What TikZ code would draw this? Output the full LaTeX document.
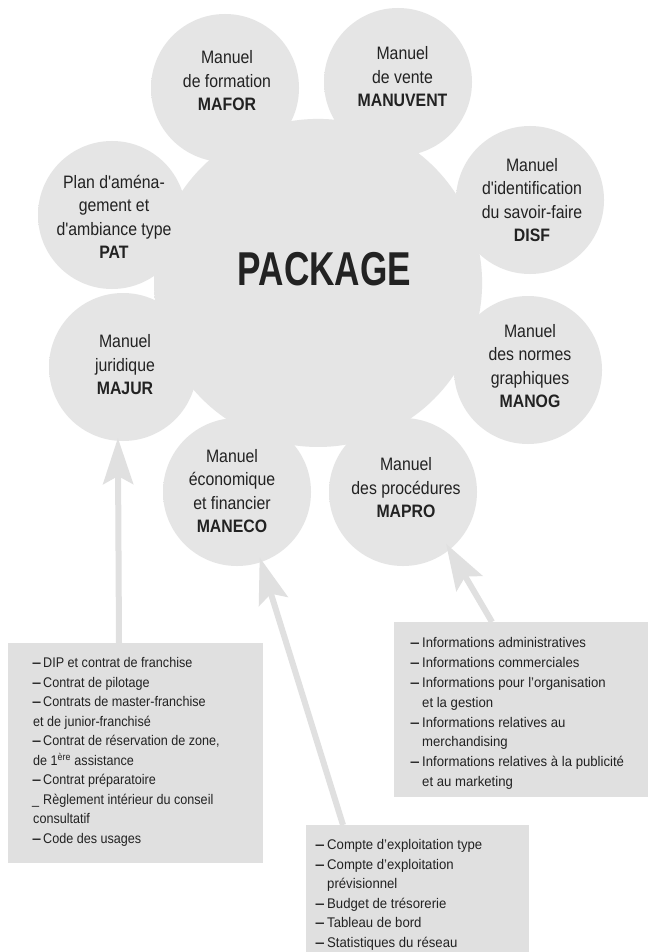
\documentclass[tikz,border=0pt]{standalone}
\usepackage{fontspec}
\setmainfont{Liberation Sans}[FakeStretch=0.94]
\newfontfamily\leftfont{Liberation Sans}[FakeStretch=0.9]
\newfontfamily\ballfont{Liberation Sans}[FakeStretch=0.88]
\newfontfamily\pkgfont{Liberation Sans}[FakeStretch=0.74]
\usetikzlibrary{arrows.meta,backgrounds,fadings,calc}

\definecolor{discgray}{HTML}{E5E5E5}
\definecolor{rimgray}{HTML}{DDDDDD}
\definecolor{boxgray}{HTML}{E0E0E0}
\definecolor{inkgray}{HTML}{222222}

% soft-edged discs: opaque core, fading rim
\pgfdeclareradialshading{softedgeshade}{\pgfpointorigin}{color(0bp)=(white); color(38bp)=(white); color(44bp)=(black!25!white); color(50bp)=(black)}
\pgfdeclareradialshading{softedgebigshade}{\pgfpointorigin}{color(0bp)=(white); color(44bp)=(white); color(47bp)=(black!25!white); color(50bp)=(black)}
\pgfdeclarefading{softedge}{\pgfuseshading{softedgeshade}}
\pgfdeclarefading{softedgebig}{\pgfuseshading{softedgebigshade}}
\pgfdeclareradialshading{discfill}{\pgfpointorigin}{color(0bp)=(discgray); color(34bp)=(discgray); color(44bp)=(rimgray); color(50bp)=(rimgray)}

% list items: a long dash before the entry, continuation lines indented
\newcommand{\longdash}{\scalebox{1.3}[1]{\textbf{–}}}
\newcommand{\dashitem}[1]{\makebox[12pt][l]{\longdash}#1}
\newcommand{\contline}[1]{\hspace*{12pt}#1}

\tikzset{
  ball/.style={circle, minimum size=146pt, inner sep=0pt},
  bigball/.style={circle, minimum size=326pt, inner sep=0pt},
  balltext/.style={font=\ballfont\fontsize{18}{23.5}\selectfont, align=center, text=inkgray, inner sep=0pt},
  infobox/.style={rectangle, fill=boxgray, inner sep=0pt, anchor=north west},
  infotext/.style={font=\fontsize{14}{19.8}\selectfont, align=left, text=inkgray, inner sep=0pt, anchor=north west},
  feed/.style={draw=boxgray, line width=6pt,
    -{Stealth[length=46pt, width=30pt, inset=8pt]}},
}

\begin{document}
\begin{tikzpicture}[x=1pt, y=1pt]
\useasboundingbox (0,0) rectangle (648,-952);

% circles
\node[bigball] (pkg)    at (318,-283) {};
\node[ball]    (mafor)  at (225,-88)  {};
\node[ball]    (manuv)  at (398,-82)  {};
\node[ball]    (pat)    at (112,-215) {};
\node[ball]    (majur)  at (123,-367) {};
\node[ball]    (disf)   at (530,-200) {};
\node[ball]    (manog)  at (528,-370) {};
\node[ball]    (maneco) at (237,-492) {};
\node[ball]    (mapro)  at (403,-492) {};

\begin{scope}[on background layer]
  \fill[white] (0,0) rectangle (648,-952);
  \shade[shading=discfill, path fading=softedgebig] (pkg.center) circle[radius=164pt];
  \foreach \b in {mafor,manuv,pat,majur,disf,manog,maneco,mapro}
    \shade[shading=discfill, path fading=softedge] (\b.center) circle[radius=74pt];
\end{scope}

% circle labels
\node[inner sep=0pt, text=inkgray, font=\pkgfont\bfseries\fontsize{47.5}{50}\selectfont] (pkgT) at (324.5,-269) {PACKAGE};
\node[balltext] (maforT)  at (227,-81)   {Manuel\\de formation\\\textbf{MAFOR}};
\node[balltext] (manuvT)  at (402.5,-77) {Manuel\\de vente\\\textbf{MANUVENT}};
\node[balltext] (patT)    at (114,-217)  {Plan d'aména-\\gement et\\d'ambiance type\\\textbf{PAT}};
\node[balltext] (majurT)  at (125,-365)  {Manuel\\juridique\\\textbf{MAJUR}};
\node[balltext] (disfT)   at (532,-200)  {Manuel\\d'identification\\du savoir-faire\\\textbf{DISF}};
\node[balltext] (manogT)  at (530,-366)  {Manuel\\des normes\\graphiques\\\textbf{MANOG}};
\node[balltext] (manecoT) at (232,-491)  {Manuel\\économique\\et financier\\\textbf{MANECO}};
\node[balltext] (maproT)  at (406,-488)  {Manuel\\des procédures\\\textbf{MAPRO}};

% content boxes
\node[infobox, minimum width=255pt, minimum height=220pt] (lbox) at (8,-643) {};
\node[infobox, minimum width=254pt, minimum height=175pt] (rbox) at (394,-622) {};
\node[infobox, minimum width=223pt, minimum height=127pt] (bbox) at (306,-825) {};

\node[infotext, font=\leftfont\fontsize{14}{19.5}\selectfont] (lboxT) at (32,-657.5) {%
  \makebox[11pt][l]{\longdash}DIP et contrat de franchise\\
  \makebox[11pt][l]{\longdash}Contrat de pilotage\\
  \makebox[11pt][l]{\longdash}Contrats de master-franchise\\
  \hspace*{1pt}et de junior-franchisé\\
  \makebox[11pt][l]{\longdash}Contrat de réservation de zone,\\
  \hspace*{1pt}de 1\textsuperscript{ère} assistance\\
  \makebox[11pt][l]{\longdash}Contrat préparatoire\\
  \makebox[11pt][l]{\_}Règlement intérieur du conseil\\
  \hspace*{1pt}consultatif\\
  \makebox[11pt][l]{\longdash}Code des usages};

\node[infotext] (rboxT) at (410,-637.5) {%
  \dashitem{Informations administratives}\\
  \dashitem{Informations commerciales}\\
  \dashitem{Informations pour l’organisation}\\
  \contline{et la gestion}\\
  \dashitem{Informations relatives au}\\
  \contline{merchandising}\\
  \dashitem{Informations relatives à la publicité}\\
  \contline{et au marketing}};

\node[infotext, font=\fontsize{14}{19.5}\selectfont] (bboxT) at (315,-839.5) {%
  \dashitem{Compte d’exploitation type}\\
  \dashitem{Compte d’exploitation}\\
  \contline{prévisionnel}\\
  \dashitem{Budget de trésorerie}\\
  \dashitem{Tableau de bord}\\
  \dashitem{Statistiques du réseau}};

% feeders from the boxes to their manuals
\coordinate (lfoot) at ([xshift=111pt]lbox.north west);
\coordinate (bfoot) at ([xshift=37pt]bbox.north west);
\coordinate (rfoot) at ([xshift=98pt]rbox.north west);
\draw[feed, shorten >=-2pt] (lfoot) -- (majur.266);
\draw[feed, shorten >=-4pt] (bfoot) -- (maneco.289);
\draw[feed, shorten >=-6pt] (rfoot) -- (mapro.309);
\end{tikzpicture}
\end{document}
